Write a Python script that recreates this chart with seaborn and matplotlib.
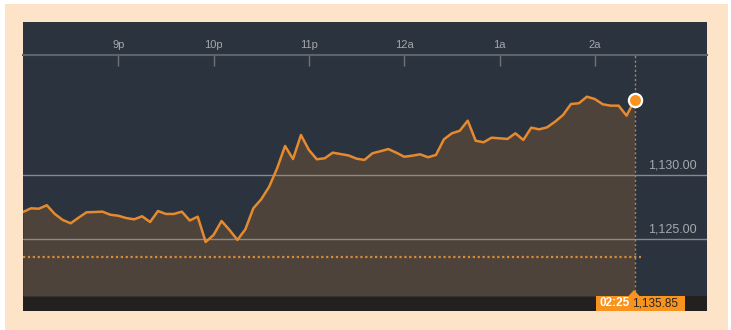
import numpy as np
import pandas as pd
import matplotlib
matplotlib.use("Agg")
import matplotlib.pyplot as plt
from matplotlib.patches import Rectangle, Polygon
import seaborn as sns

# ---- data (5-minute prices from 8:00p to 2:25a) ----
prices = [
    1127.13, 1127.42, 1127.39, 1127.66, 1126.98, 1126.51, 1126.25, 1126.69,
    1127.11, 1127.13, 1127.16, 1126.92, 1126.84, 1126.66, 1126.56, 1126.80,
    1126.35, 1127.21, 1126.98, 1126.98, 1127.16, 1126.47, 1126.77, 1124.79,
    1125.34, 1126.43, 1125.73, 1124.95, 1125.78, 1127.42, 1128.13, 1129.11,
    1130.55, 1132.29, 1131.27, 1133.15, 1131.98, 1131.25, 1131.33, 1131.77,
    1131.66, 1131.55, 1131.30, 1131.20, 1131.72, 1131.88, 1132.05, 1131.77,
    1131.45, 1131.53, 1131.64, 1131.41, 1131.59, 1132.81, 1133.28, 1133.48,
    1134.27, 1132.70, 1132.58, 1132.94, 1132.89, 1132.84, 1133.28, 1132.76,
    1133.72, 1133.59, 1133.75, 1134.19, 1134.71, 1135.57, 1135.63, 1136.14,
    1135.96, 1135.55, 1135.44, 1135.44, 1134.66, 1135.85,
]
minutes = [5 * i for i in range(len(prices))]  # minutes since 8:00p
tick_minutes = [60, 120, 180, 240, 300, 360]
tick_labels = ["9p", "10p", "11p", "12a", "1a", "2a"]
grid_values = [1125.0, 1130.0]
grid_labels = ["1,125.00", "1,130.00"]
prev_close = 1123.62
last_time_label = "02:25"
last_price_label = "1,135.85"

df = pd.DataFrame({"minute": minutes, "price": prices})

W, H = 731, 330
sns.set_theme(style="white")
plt.rcParams["font.family"] = ["Liberation Sans", "DejaVu Sans"]

fig = plt.figure(figsize=(W / 100, H / 100), dpi=100)
fig.patch.set_facecolor("white")


def fx(x):
    return x / W


def fy(y):
    return 1 - y / H


def rect(x0, y0, x1, y1, color, z):
    fig.add_artist(Rectangle((fx(x0), fy(y1)), fx(x1) - fx(x0), fy(y0) - fy(y1),
                             transform=fig.transFigure, facecolor=color,
                             edgecolor="none", zorder=z))


PEACH = "#fde4c9"
PANEL = "#2b333e"
ORANGE = "#e58a2e"

rect(5, 4, 728, 330, PEACH, -20)
rect(23, 22, 707, 311, PANEL, -10)
rect(23, 296, 707, 311, "#232020", -5)

# main axes: x 23..707, y 55..296 px
ax = fig.add_axes([fx(23), fy(296), fx(707) - fx(23), fy(55) - fy(296)])
ax.set_facecolor(PANEL)

px_per_min = 95.3 / 60
ax.set_xlim(0, 684 / px_per_min)
px_per_unit = 12.8
ymin = 1130 - (296 - 175.3) / px_per_unit
ymax = 1130 + (175.3 - 55) / px_per_unit
ax.set_ylim(ymin, ymax)

ax.fill_between(df["minute"], df["price"], ymin, color="#4d433b", lw=0, zorder=1)
for v in grid_values:
    ax.axhline(v, color="#8c8882", lw=1, zorder=2)
ax.axhline(prev_close, xmax=(641 - 23) / 684, color="#d98a38", lw=1.6,
           ls=(0, (1, 1.2)), zorder=3)
ax.axvline(minutes[-1], color="#a88c5e", lw=1.0, ls=(0, (1.5, 1.8)), zorder=3)
sns.lineplot(data=df, x="minute", y="price", ax=ax, color=ORANGE, lw=1.8,
             zorder=4)
ax.plot([minutes[-1]], [prices[-1]], "o", ms=9.5, mfc="#f7931e", mec="white",
        mew=1.6, zorder=6, clip_on=False)

for v, lab in zip(grid_values, grid_labels):
    ax.text(674 / px_per_min, v + 0.3, lab, ha="right", va="bottom",
            fontsize=9, color="#a5a8ad", zorder=5)

ax.set_xlabel("")
ax.set_ylabel("")
ax.set_yticks([])
ax.xaxis.tick_top()
ax.set_xticks(tick_minutes)
ax.set_xticklabels(tick_labels)
ax.tick_params(axis="x", direction="in", length=8, width=1, color="#6e737a",
               labelsize=8, labelcolor="#a5a8ad", pad=3.5, top=True, bottom=False)
for s in ["left", "right", "bottom"]:
    ax.spines[s].set_visible(False)
ax.spines["top"].set_color("#5d636b")
ax.spines["top"].set_linewidth(1.5)

# last-value label box
rect(596, 296, 685, 311, "#f7931e", 5)
fig.add_artist(Polygon([(fx(628), fy(296.5)), (fx(640), fy(296.5)), (fx(634), fy(290))],
                       closed=True, transform=fig.transFigure, facecolor="#f7931e",
                       edgecolor="none", zorder=6))
fig.text(fx(600), fy(303.5), last_time_label, ha="left", va="center",
         fontsize=8.5, color="white", fontweight="bold", zorder=7)
fig.text(fx(632), fy(303.5), last_price_label, ha="left", va="center",
         fontsize=8.5, color="#2a2522", zorder=7)

fig.savefig("out.png", dpi=100, facecolor=fig.get_facecolor())
